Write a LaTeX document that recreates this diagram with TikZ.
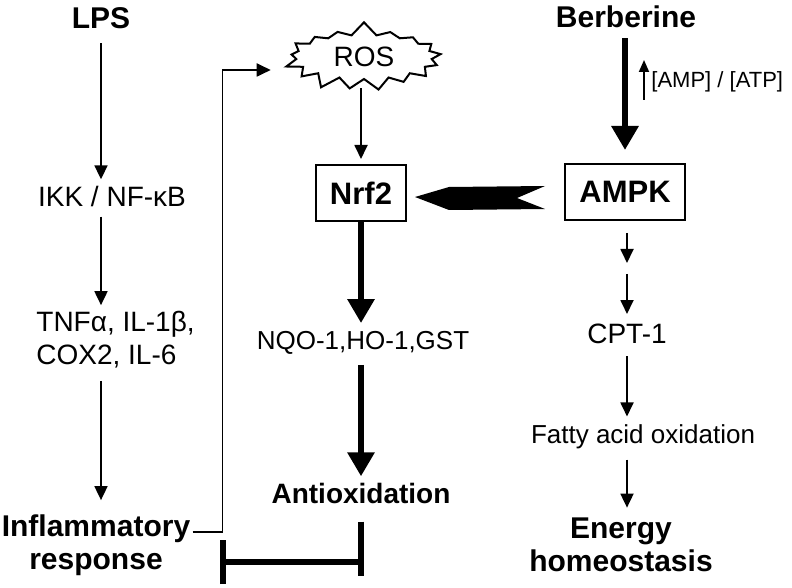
\documentclass[tikz,border=0pt]{standalone}
\usepackage{fontspec}
\setmainfont{Liberation Sans}
\usetikzlibrary{positioning,arrows.meta,shapes.symbols}
\tikzset{txt/.style={inner sep=1pt,font=\fontsize{14}{16.5}\selectfont},
	head/.style={inner sep=1pt,font=\bfseries\fontsize{15}{17}\selectfont},
	result/.style={inner sep=1pt,align=center,font=\bfseries\fontsize{15}{16.5}\selectfont},
	main box/.style={draw,line width=1pt,minimum height=28pt,inner sep=0pt,font=\bfseries\fontsize{15.5}{18}\selectfont},
	arr/.style={line width=0.9pt,-{Triangle[length=7pt,width=6.5pt]}},
	big arr/.style={line width=3pt,-{Triangle[length=12pt,width=13pt]}},
	inhib/.style={line width=3pt},
}
\begin{document}
\begin{tikzpicture}[x=0.5pt,y=-0.5pt]
	\useasboundingbox (0,0) rectangle (792,588);
	% inflammation
	\node[head] (lps) at (101,18) {LPS};
	\node[txt] (ikk) at (112,196) {IKK / NF-κB};
	\node[txt,align=left,anchor=west] (cyt) at (34,340) {TNFα, IL-1β,\\COX2, IL-6};
	\node[result] (infl) at (96,545) {Inflammatory\\response};
	% oxidative stress
	\node[starburst,draw,line width=1pt,starburst points=17,starburst point height=7pt,random starburst=7,minimum width=82pt,minimum height=36pt,inner sep=0pt,font=\fontsize{14}{16}\selectfont] (ros) at (364,57) {ROS};
	\node[main box,minimum width=45pt] (nrf) at (361,193) {Nrf2};
	\node[txt,font=\fontsize{13}{16}\selectfont] (nqo) at (363,343) {NQO-1,HO-1,GST};
	\node[result,font=\bfseries\fontsize{14}{16}\selectfont] (anti) at (361,493) {Antioxidation};
	% energy
	\node[head] (ber) at (626,17) {Berberine};
	\node[main box,minimum width=60pt] (ampk) at (625,192) {AMPK};
	\node[inner sep=1pt,font=\fontsize{11}{13}\selectfont,anchor=west] (ratio) at (649,82) {[AMP] / [ATP]};
	\node[txt] (cpt) at (627,334) {CPT-1};
	\node[txt,font=\fontsize{13}{15}\selectfont] (fao) at (643,437) {Fatty acid oxidation};
	\node[result] (energy) at (621,545) {Energy\\homeostasis};
	\coordinate (ibar) at (220,562);
	
	\draw[arr,shorten <=6pt,shorten >=2pt] (lps) -- (lps |- ikk.north);
	\draw[arr,shorten <=4pt,shorten >=2pt] (ikk.south -| lps) -- (cyt.north -| lps);
	\draw[arr,shorten <=5pt,shorten >=6pt] (cyt.south -| lps) -- (infl.north -| lps);
	\draw[arr,shorten >=11pt] ([yshift=6.5pt]infl.east) -- ++(30,0) |- ([yshift=-6.5pt]ros.west);
	\draw[arr,shorten <=4pt,shorten >=2.5pt] (nrf.north |- ros.south) -- (nrf.north);
	\draw[big arr,shorten >=3pt] (nrf) -- (nrf |- nqo.north);
	\draw[big arr,shorten <=4pt,shorten >=2pt] (nrf |- nqo.south) -- (nrf |- anti.north);
	\draw[inhib,shorten <=8pt] (anti.south) -- ++(0,70);
	\draw[inhib,-{Bar[width=22pt]}] (anti.south |- ibar) -- (ibar);
	\draw[big arr,shorten <=4pt,shorten >=6.5pt] (ampk.north |- ber.south) -- (ampk.north);
	\draw[line width=0.9pt,-{Triangle[length=6pt,width=5pt]}] ([xshift=-2.5pt,yshift=-9pt]ratio.west) -- ++(0,-40);
	\fill (nrf.east) ++(8,4) -- ++(34,-10) -- ++(96,-1) -- ++(-28,12) -- ++(28,11) -- ++(-96,1) -- cycle;
	\draw[arr] (ampk.south -| cpt) ++(0,12) -- ++(0,30);
	\draw[arr] (ampk.south -| cpt) ++(0,53) -- ++(0,40);
	\draw[arr,shorten <=5pt,shorten >=3pt] (cpt) -- (cpt |- fao.north);
	\draw[arr,shorten <=4pt,shorten >=4pt] (cpt |- fao.south) -- (cpt |- energy.north);
\end{tikzpicture}
\end{document}
